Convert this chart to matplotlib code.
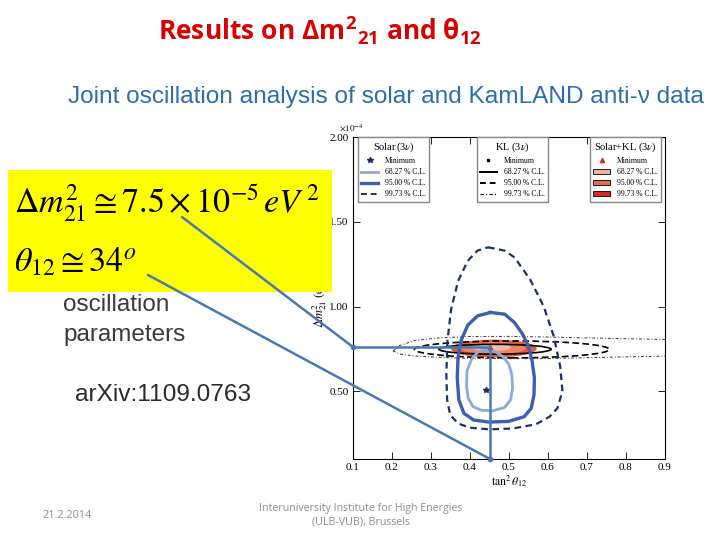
import matplotlib.pyplot as plt
from matplotlib.patches import Ellipse, Rectangle, Patch, ConnectionPatch
from matplotlib.lines import Line2D

# mathtext for the slide title (bold sans, Calibri-like)
plt.rcParams['mathtext.fontset'] = 'custom'
plt.rcParams['mathtext.rm'] = 'Open Sans:bold'
plt.rcParams['mathtext.it'] = 'Open Sans:bold'
plt.rcParams['mathtext.bf'] = 'Open Sans:bold'

# ---- data (x = tan^2 theta12, y = dm2_21 in 1e-4 eV^2) ----
solar_min = (0.441, 0.508)
solar_68_x = [0.44, 0.465, 0.485, 0.50, 0.508, 0.51, 0.505, 0.49, 0.46, 0.43, 0.408, 0.396, 0.392, 0.393, 0.405, 0.42]
solar_68_y = [0.745, 0.735, 0.705, 0.66, 0.60, 0.52, 0.45, 0.405, 0.385, 0.388, 0.41, 0.46, 0.53, 0.62, 0.69, 0.73]
solar_95_x = [0.453, 0.49, 0.515, 0.535, 0.55, 0.56, 0.566, 0.565, 0.558, 0.54, 0.50, 0.45, 0.41, 0.385, 0.372, 0.368, 0.37, 0.378, 0.395, 0.42]
solar_95_y = [0.965, 0.955, 0.905, 0.84, 0.77, 0.68, 0.58, 0.48, 0.40, 0.35, 0.322, 0.318, 0.33, 0.37, 0.45, 0.58, 0.70, 0.80, 0.89, 0.945]
solar_99_x = [0.447, 0.49, 0.515, 0.555, 0.59, 0.615, 0.632, 0.638, 0.625, 0.605, 0.57, 0.51, 0.45, 0.40, 0.37, 0.35,
              0.342, 0.34, 0.343, 0.352, 0.37, 0.395, 0.42]
solar_99_y = [1.35, 1.33, 1.29, 1.16, 1.00, 0.83, 0.65, 0.50, 0.40, 0.35, 0.305, 0.28, 0.275, 0.285, 0.31, 0.36,
              0.45, 0.60, 0.80, 0.98, 1.15, 1.27, 1.33]

kl_min = (0.452, 0.755)
kl_68 = (0.465, 0.748, 0.288, 0.058)   # centre x, centre y, width, height
kl_95 = (0.508, 0.747, 0.50, 0.100)
kl_99_top_x = [0.203, 0.22, 0.26, 0.32, 0.40, 0.50, 0.60, 0.70, 0.80, 0.92]
kl_99_top_y = [0.738, 0.77, 0.80, 0.815, 0.823, 0.824, 0.82, 0.815, 0.81, 0.805]
kl_99_bot_x = [0.203, 0.22, 0.26, 0.32, 0.40, 0.50, 0.60, 0.70, 0.80, 0.92]
kl_99_bot_y = [0.738, 0.72, 0.708, 0.70, 0.694, 0.692, 0.693, 0.698, 0.703, 0.708]

comb_min = (0.452, 0.762)
comb_99 = (0.462, 0.752, 0.220, 0.105)
comb_95 = (0.460, 0.754, 0.165, 0.075)
comb_68 = (0.455, 0.758, 0.100, 0.042)

best_fit = (0.452, 0.762)

cl_labels = ["68.27 % C.L.", "95.00 % C.L.", "99.73 % C.L."]
xticks = [0.1, 0.2, 0.3, 0.4, 0.5, 0.6, 0.7, 0.8, 0.9]
yticks = [0.5, 1.0, 1.5, 2.0]

c_light = '#8fa8d8'
c_mid = '#3d5fae'
c_navy = '#1f2f66'
c_fill = ['#f5bcaa', '#ec8466', '#e35a3a']
c_leg = ['#f0b2a8', '#e2694e', '#d42a2a']
c_link = '#4a78b5'

fig = plt.figure(figsize=(7.2, 5.4), dpi=100)
ax = fig.add_axes([0.490, 0.15, 0.433, 0.596])

# Solar+KL filled regions
for (cx, cy, w, h), col in zip([comb_99, comb_95, comb_68], c_fill[::-1]):
    ax.add_patch(Ellipse((cx, cy), w, h, facecolor=col, edgecolor='none', zorder=1))

# KL contours
ax.add_patch(Ellipse(kl_68[:2], kl_68[2], kl_68[3], fill=False, ec='black', lw=1.2, zorder=3))
ax.add_patch(Ellipse(kl_95[:2], kl_95[2], kl_95[3], fill=False, ec='black', lw=1.2, ls=(0, (4, 2)), zorder=3))
ax.plot(kl_99_top_x, kl_99_top_y, color='#333333', lw=0.7, ls=(0, (3, 2, 1, 2)), zorder=3)
ax.plot(kl_99_bot_x, kl_99_bot_y, color='#333333', lw=0.7, ls=(0, (3, 2, 1, 2)), zorder=3)

# Solar contours
ax.plot(solar_68_x + solar_68_x[:1], solar_68_y + solar_68_y[:1], color=c_light, lw=2.0, zorder=4)
ax.plot(solar_95_x + solar_95_x[:1], solar_95_y + solar_95_y[:1], color=c_mid, lw=2.4, zorder=4)
ax.plot(solar_99_x + solar_99_x[:1], solar_99_y + solar_99_y[:1], color=c_navy, lw=1.6, ls=(0, (3, 2)), zorder=4)
ax.plot(*solar_min, marker='*', color=c_navy, ms=4, zorder=5)
ax.plot(*comb_min, marker='^', color='#d42a2a', ms=3, zorder=5)

ax.set_xlim(0.1, 0.9)
ax.set_ylim(0.1, 2.0)
ax.set_xticks(xticks)
ax.set_xticklabels([f"{v:.1f}" for v in xticks])
ax.set_yticks(yticks)
ax.set_yticklabels([f"{v:.2f}" for v in yticks])
ax.tick_params(direction='in', top=True, right=True, length=5, width=0.6, labelsize=8, pad=3)
for lab in ax.get_xticklabels() + ax.get_yticklabels():
    lab.set_fontfamily('Liberation Serif')
for s in ax.spines.values():
    s.set_linewidth(0.8)
ax.set_xlabel(r'$\tan^2\theta_{12}$', fontsize=8.5, math_fontfamily='stix', labelpad=1)
ax.set_ylabel(r'$\Delta m^2_{21}\ (\mathrm{eV}^2)$', fontsize=9, math_fontfamily='stix', labelpad=0)
ax.text(-0.045, 1.012, r'$\times10^{-4}$', transform=ax.transAxes, fontsize=6.5,
        math_fontfamily='stix', ha='left', va='bottom')

# legends
leg_kw = dict(frameon=True, fancybox=False, framealpha=1, edgecolor='#888888',
              prop={'family': 'Liberation Serif', 'size': 5.5},
              title_fontproperties={'family': 'Liberation Serif', 'size': 7.5},
              handlelength=2.2, borderaxespad=0, labelspacing=0.4, borderpad=0.45, handletextpad=0.9)
h1 = [Line2D([], [], ls='none', marker='*', color=c_navy, ms=4),
      Line2D([], [], color=c_light, lw=2),
      Line2D([], [], color=c_mid, lw=2.4),
      Line2D([], [], color=c_navy, lw=1.4, ls=(0, (3, 2)))]
h2 = [Line2D([], [], ls='none', marker='s', color='black', ms=2),
      Line2D([], [], color='black', lw=1.4),
      Line2D([], [], color='black', lw=1.4, ls=(0, (3, 2))),
      Line2D([], [], color='black', lw=0.8, ls=(0, (3, 2, 1, 2)))]
h3 = [Line2D([], [], ls='none', marker='^', color='#d42a2a', ms=3)] + \
     [Patch(facecolor=c, edgecolor='black', lw=0.6) for c in c_leg]
names = ["Minimum"] + cl_labels
l1 = ax.legend(h1, names, title=r'Solar$\,$(3$\nu$)', loc='upper left', bbox_to_anchor=(0.016, 1.0), **leg_kw)
ax.add_artist(l1)
l2 = ax.legend(h2, names, title=r'KL (3$\nu$)', loc='upper left', bbox_to_anchor=(0.397, 1.0), **leg_kw)
ax.add_artist(l2)
l3 = ax.legend(h3, names, title=r'Solar+KL (3$\nu$)', loc='upper right', bbox_to_anchor=(0.99, 1.0), **leg_kw)
for leg in (l1, l2, l3):
    leg.get_title().set_math_fontfamily('stix')

# best-fit guide lines
ax.plot([0.1, best_fit[0]], [best_fit[1], best_fit[1]], color=c_link, lw=1.8, clip_on=False, zorder=10)
ax.plot([best_fit[0], best_fit[0]], [best_fit[1], 0.1], color=c_link, lw=1.8, clip_on=False, zorder=10)
ax.plot([0.1, best_fit[0]], [best_fit[1], 0.1], ls='none', marker='o', ms=3, color=c_link, clip_on=False, zorder=11)

# yellow box with the results
fig.add_artist(Rectangle((8 / 720, 1 - 292 / 540), 324 / 720, 122 / 540, transform=fig.transFigure,
                         facecolor='#ffff00', edgecolor='none', zorder=5))
fig.text(14 / 720, 1 - 203 / 540, r'$\Delta m^2_{21} \cong 7.5\times10^{-5}\, eV^{\,2}$', fontsize=24.5,
         math_fontfamily='stix', va='center', ha='left', zorder=6)
fig.text(14 / 720, 1 - 262 / 540, r'$\theta_{12} \cong 34^o$', fontsize=24.5,
         math_fontfamily='stix', va='center', ha='left', zorder=6)

for p_fig, p_dat in [((182 / 720, 1 - 217 / 540), (0.1, best_fit[1])),
                     ((148 / 720, 1 - 275 / 540), (best_fit[0], 0.1))]:
    con = ConnectionPatch(xyA=p_fig, coordsA=fig.transFigure, xyB=p_dat, coordsB=ax.transData,
                          color=c_link, lw=1.8, zorder=10)
    fig.add_artist(con)

# slide texts
fig.text(320 / 720, 1 - 31 / 540, r'Results on $\Delta m^2{}_{21}$ and $\theta_{12}$', color='#d80000',
         fontsize=19, fontfamily='Open Sans', fontweight='bold', ha='center', va='center')
fig.text(68 / 720, 1 - 97 / 540, 'Joint oscillation analysis of solar and KamLAND anti-\u03bd data',
         color='#2d6cb2', fontsize=17.6, fontfamily='Liberation Sans', ha='left', va='center')
fig.text(63 / 720, 1 - 305 / 540, 'oscillation', color='#3a3a3a', fontsize=17.5,
         fontfamily='Liberation Sans', ha='left', va='center')
fig.text(63 / 720, 1 - 335 / 540, 'parameters', color='#3a3a3a', fontsize=17.5,
         fontfamily='Liberation Sans', ha='left', va='center')
fig.text(75 / 720, 1 - 395 / 540, 'arXiv:1109.0763', color='#2a2a2a', fontsize=17.6,
         fontfamily='Liberation Sans', ha='left', va='center')
fig.text(67 / 720, 1 - 515 / 540, '21.2.2014', color='#8c8c8c', fontsize=7.8,
         fontfamily='Open Sans', ha='center', va='center')
fig.text(361 / 720, 1 - 515 / 540, 'Interuniversity Institute for High Energies\n(ULB-VUB), Brussels',
         color='#8c8c8c', fontsize=7.7, fontfamily='Open Sans', ha='center', va='center', linespacing=1.3)

fig.savefig('out.png', dpi=100)
